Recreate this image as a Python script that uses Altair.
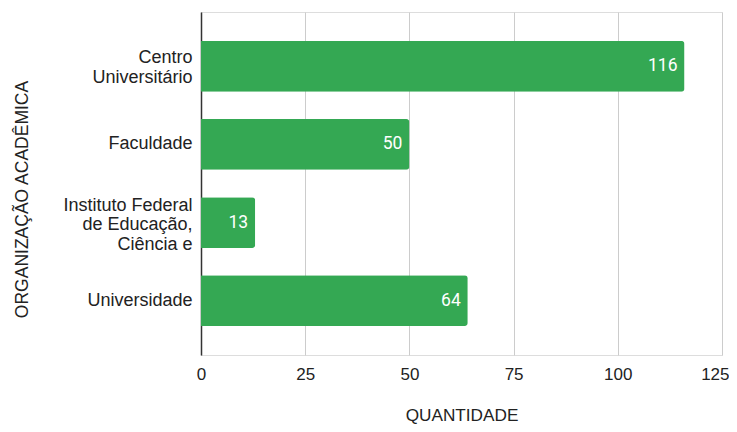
import altair as alt
import pandas as pd

categories = ["Centro|Universitário", "Faculdade", "Instituto Federal|de Educação,|Ciência e", "Universidade"]
values = [116, 50, 13, 64]
x_ticks = [0, 25, 50, 75, 100, 125]

df = pd.DataFrame({"cat": categories, "qtd": values})

y_enc = alt.Y(
    "cat:N",
    sort=categories,
    scale=alt.Scale(paddingInner=0.35, paddingOuter=0.37),
    axis=alt.Axis(
        title="ORGANIZAÇÃO ACADÊMICA",
        labelExpr="split(datum.label, '|')",
        labelFont="Liberation Sans",
        labelFontSize=18,
        labelColor="#222222",
        labelLineHeight=19.5,
        labelPadding=9,
        labelOffset={
            "condition": [
                {"test": "indexof(datum.value, 'Instituto') >= 0", "value": -17},
                {"test": "indexof(datum.value, 'Centro') >= 0", "value": -8},
            ],
            "value": 0,
        },
        ticks=False,
        domain=True,
        domainColor="#333333",
        domainWidth=1.5,
        titleFont="Liberation Sans",
        titleFontSize=17.5,
        titleFontWeight="normal",
        titleColor="#222222",
        titleAngle=-90,
        titleX=-179,
        titleY=187,
        titleBaseline="middle",
        titleAlign="center",
    ),
)

x_enc = alt.X(
    "qtd:Q",
    scale=alt.Scale(domain=[0, 125], nice=False),
    axis=alt.Axis(
        title="QUANTIDADE",
        values=x_ticks,
        labelFont="Liberation Sans",
        labelFontSize=17,
        labelColor="#222222",
        labelPadding=11,
        labelAlign={"condition": {"test": "datum.value == 125", "value": "right"}, "value": "center"},
        labelOffset={"condition": {"test": "datum.value == 125", "value": 7}, "value": 0},
        ticks=False,
        domain=False,
        grid=True,
        gridColor="#cccccc",
        gridWidth=1,
        titleFont="Liberation Sans",
        titleFontSize=17.2,
        titleFontWeight="normal",
        titleColor="#222222",
        titleY=60,
        titleBaseline="middle",
    ),
)

bars = alt.Chart(df).mark_bar(
    color="#34a853", cornerRadiusTopRight=3, cornerRadiusBottomRight=3
).encode(x=x_enc, y=y_enc)

labels = alt.Chart(df).mark_text(
    align="right", baseline="middle", dx=-7, color="white", font="Roboto", fontSize=17.5
).encode(x="qtd:Q", y=alt.Y("cat:N", sort=categories), text="qtd:Q")

chart = (
    alt.layer(bars, labels)
    .properties(
        width=521,
        height=343,
        autosize=alt.AutoSizeParams(type="none"),
        padding={"left": 193, "top": 4, "right": 7, "bottom": 69},
    )
    .configure_view(stroke=None)
    .configure(background="white")
)

chart.save("out.html", embed_options={"renderer": "svg", "actions": False})
